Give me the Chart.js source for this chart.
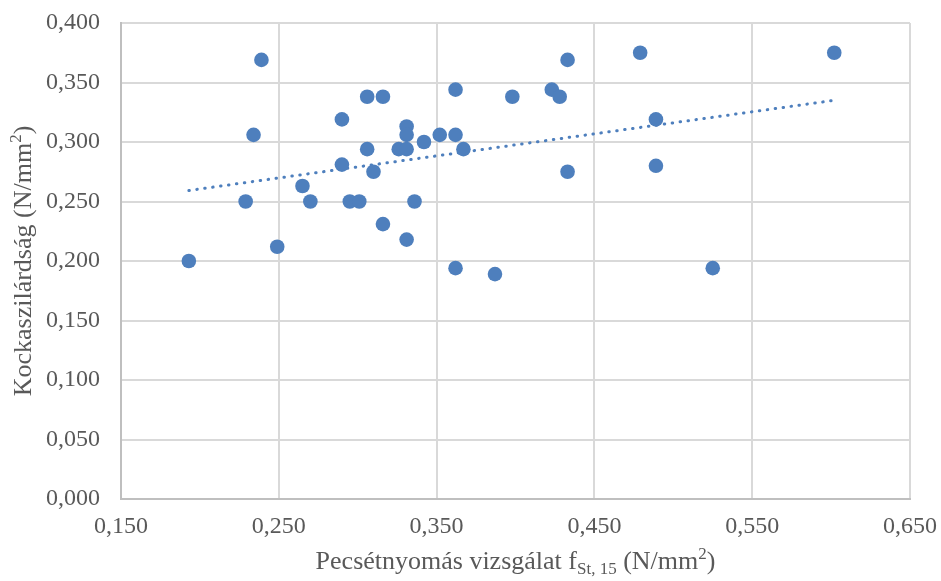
<!DOCTYPE html>
<html lang="hu">
<head>
    <meta charset="UTF-8">
    <title>Kockaszilárdság</title>
    <script src="https://cdn.jsdelivr.net/npm/chart.js@4.4.0/dist/chart.umd.min.js"></script>
    <style>
        html, body { margin: 0; padding: 0; background: #fff; }
        #wrap { width: 941px; height: 581px; }
    </style>
</head>
<body>
    <div id="wrap"><canvas id="myChart" width="941" height="581"></canvas></div>
    <script>
        // pecsétnyomás vizsgálat (x) values
        const xValues = [0.239, 0.306, 0.316, 0.362, 0.290, 0.234, 0.331, 0.331, 0.352, 0.362,
            0.342, 0.306, 0.326, 0.331, 0.367, 0.290, 0.310, 0.265, 0.229, 0.270,
            0.295, 0.301, 0.336, 0.316, 0.331, 0.249, 0.193, 0.362, 0.433, 0.479,
            0.602, 0.398, 0.423, 0.428, 0.489, 0.433, 0.489, 0.387, 0.525];
        // kockaszilárdság (y) values
        const yValues = [0.369, 0.338, 0.338, 0.344, 0.319, 0.306, 0.313, 0.306, 0.306, 0.306,
            0.300, 0.294, 0.294, 0.294, 0.294, 0.281, 0.275, 0.263, 0.250, 0.250,
            0.250, 0.250, 0.250, 0.231, 0.218, 0.212, 0.200, 0.194, 0.369, 0.375,
            0.375, 0.338, 0.344, 0.338, 0.319, 0.275, 0.280, 0.189, 0.194];
        const xTicks = [0.150, 0.250, 0.350, 0.450, 0.550, 0.650];
        const yTicks = [0.000, 0.050, 0.100, 0.150, 0.200, 0.250, 0.300, 0.350, 0.400];

        const blue = '#4e7fbd';
        const textGray = '#595959';
        const font = 'Liberation Serif';

        let points = xValues.map((x, i) => ({ x: x, y: yValues[i] }));

        // linear trendline (least squares) over the data range
        let n = xValues.length;
        let sx = 0, sy = 0, sxx = 0, sxy = 0;
        for (let i = 0; i < n; i++) {
            sx += xValues[i]; sy += yValues[i];
            sxx += xValues[i] * xValues[i]; sxy += xValues[i] * yValues[i];
        }
        let slope = (n * sxy - sx * sy) / (n * sxx - sx * sx);
        let intercept = (sy - slope * sx) / n;
        let xMin = Math.min(...xValues), xMax = Math.max(...xValues);
        let trend = [
            { x: xMin, y: intercept + slope * xMin },
            { x: xMax, y: intercept + slope * xMax }
        ];

        function fmt(v) { return v.toFixed(3).replace('.', ','); }

        // draw a run of text pieces (for sub/superscripts), centered on 0
        function drawParts(ctx, parts) {
            let total = 0;
            parts.forEach(p => { ctx.font = p.size + 'px "' + font + '"'; p.w = ctx.measureText(p.t).width; total += p.w; });
            let x = -total / 2;
            parts.forEach(p => {
                ctx.font = p.size + 'px "' + font + '"';
                ctx.fillText(p.t, x, p.dy);
                x += p.w;
            });
        }

        // axis titles with subscript / superscript
        const axisTitlePlugin = {
            id: 'axisTitles',
            afterDraw(chart) {
                const ctx = chart.ctx;
                const area = chart.chartArea;
                ctx.save();
                ctx.fillStyle = textGray;
                ctx.textBaseline = 'alphabetic';
                // x title
                ctx.save();
                ctx.translate((area.left + area.right) / 2, 569);
                drawParts(ctx, [
                    { t: 'Pecsétnyomás vizsgálat f', size: 26, dy: 0 },
                    { t: 'St, 15', size: 17, dy: 5 },
                    { t: ' (N/mm', size: 26, dy: 0 },
                    { t: '2', size: 17, dy: -10 },
                    { t: ')', size: 26, dy: 0 }
                ]);
                ctx.restore();
                // y title
                ctx.save();
                ctx.translate(31, (area.top + area.bottom) / 2);
                ctx.rotate(-Math.PI / 2);
                drawParts(ctx, [
                    { t: 'Kockaszilárdság (N/mm', size: 26, dy: 0 },
                    { t: '2', size: 17, dy: -10 },
                    { t: ')', size: 26, dy: 0 }
                ]);
                ctx.restore();
                ctx.restore();
            }
        };

        var ctx = document.getElementById('myChart').getContext('2d');
        var myChart = new Chart(ctx, {
            type: 'scatter',
            data: {
                datasets: [
                    {
                        label: 'Kockaszilárdság',
                        data: points,
                        backgroundColor: blue,
                        borderColor: blue,
                        borderWidth: 0,
                        pointRadius: 7.3,
                        pointHoverRadius: 7.3
                    },
                    {
                        label: 'Lineáris trend',
                        type: 'line',
                        data: trend,
                        borderColor: blue,
                        borderWidth: 3,
                        borderDash: [0.5, 7.5],
                        borderCapStyle: 'round',
                        pointRadius: 0,
                        fill: false
                    }
                ]
            },
            options: {
                responsive: false,
                animation: false,
                layout: { padding: { top: 23, right: 31, left: 0, bottom: 0 } },
                plugins: {
                    legend: { display: false },
                    tooltip: { enabled: false }
                },
                scales: {
                    x: {
                        type: 'linear',
                        min: 0.15,
                        max: 0.65,
                        afterBuildTicks: axis => { axis.ticks = xTicks.map(v => ({ value: v })); },
                        afterFit: axis => {
                            axis.height = 82;
                            axis.paddingLeft = 0;
                            axis.paddingRight = 0;
                        },
                        grid: { color: '#d9d9d9', lineWidth: 2, drawTicks: false },
                        border: { color: '#bfbfbf', width: 2 },
                        ticks: {
                            padding: 13,
                            color: textGray,
                            font: { family: font, size: 24 },
                            maxRotation: 0,
                            callback: v => fmt(v)
                        }
                    },
                    y: {
                        min: 0,
                        max: 0.4,
                        afterBuildTicks: axis => { axis.ticks = yTicks.map(v => ({ value: v })); },
                        afterFit: axis => {
                            axis.width = 121;
                            axis.paddingTop = 0;
                            axis.paddingBottom = 0;
                        },
                        grid: { color: '#d9d9d9', lineWidth: 2, drawTicks: false },
                        border: { color: '#bfbfbf', width: 2 },
                        ticks: {
                            padding: 21,
                            color: textGray,
                            font: { family: font, size: 24 },
                            callback: v => fmt(v)
                        }
                    }
                }
            },
            plugins: [axisTitlePlugin]
        });
    </script>
</body>
</html>
